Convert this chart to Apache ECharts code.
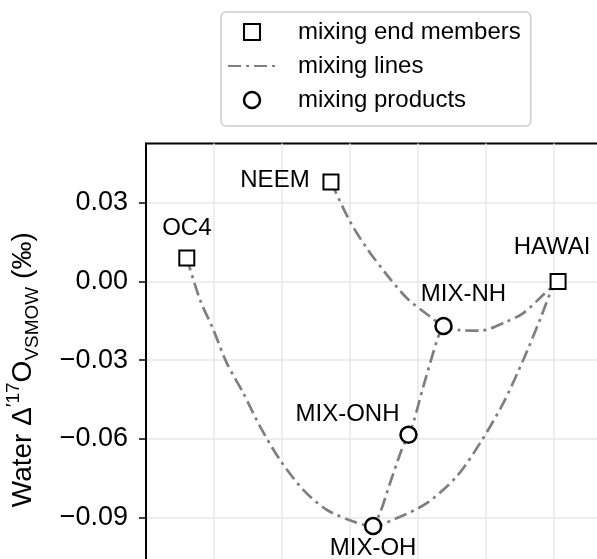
<!DOCTYPE html>
<html><head><meta charset="utf-8">
<script src="https://cdn.jsdelivr.net/npm/echarts@6/dist/echarts.min.js"></script>
<style>html,body{margin:0;padding:0;background:#fff}#c{width:597px;height:559px}</style>
</head><body><div id="c"></div>
<script>
// ---- data ----
const endMemberNames = ['OC4', 'NEEM', 'HAWAI'];
const endMemberX = [-54.0, -32.8, 0.6];
const endMemberY = [0.0089, 0.0379, 0.0];

const productNames = ['MIX-NH', 'MIX-ONH', 'MIX-OH'];
const productX = [-16.25, -21.4, -26.6];
const productY = [-0.0170, -0.0585, -0.0933];

// mixing line OC4 -> MIX-OH -> HAWAI
const lineOHx = [-54.0, -52.06, -50.10, -48.13, -45.69, -43.24, -40.29, -36.87, -33.43, -29.51, -26.6, -23.13, -18.72, -14.31, -10.88, -7.46, -4.51, -2.06, -0.34, 0.6];
const lineOHy = [0.0089, -0.0070, -0.0184, -0.0311, -0.0426, -0.0553, -0.0681, -0.0795, -0.0871, -0.0916, -0.0933, -0.0903, -0.0846, -0.0744, -0.0617, -0.0464, -0.0299, -0.0146, -0.0032, 0.0];
// mixing line NEEM -> MIX-NH -> HAWAI
const lineNHx = [-32.8, -30.0, -27.54, -24.60, -21.66, -18.24, -16.25, -13.82, -10.88, -6.96, -4.51, -1.57, 0.6];
const lineNHy = [0.0379, 0.0229, 0.0127, 0.0026, -0.0063, -0.0134, -0.0170, -0.0186, -0.0188, -0.0153, -0.0121, -0.0051, 0.0];
// mixing line MIX-NH -> MIX-ONH -> MIX-OH
const lineONHx = [-16.25, -17.01, -19.22, -20.69, -21.4, -22.40, -24.12, -25.59, -26.6];
const lineONHy = [-0.0170, -0.0210, -0.0401, -0.0540, -0.0585, -0.0642, -0.0770, -0.0884, -0.0933];

const yTicks = [-0.12, -0.09, -0.06, -0.03, 0.0, 0.03];
const legendNames = ['mixing end members', 'mixing lines', 'mixing products'];

// ---- layout (label offsets in px, not data) ----
const endLabelOffsets = [[0, -30], [-56, -2], [-6, -34]];
const productLabelOffsets = [[20, -32], [-61, -20], [0, 22]];

const FONT = '"Liberation Sans", Arial, Helvetica, sans-serif';
const zip = (xs, ys) => xs.map((x, i) => [x, ys[i]]);
const fmt = v => Math.abs(v) < 1e-9 ? '0.00' : v.toFixed(2).replace('-', '\u2212');

const lineStyle = { color: '#7f7f7f', width: 2.7, type: [13, 5, 3, 5] };
function mixLine(xs, ys) {
  return {
    name: legendNames[1], type: 'line', data: zip(xs, ys), smooth: 0.3,
    symbol: 'none', showSymbol: false, lineStyle: lineStyle, itemStyle: { color: '#7f7f7f' },
    z: 2, silent: true, animation: false
  };
}

const chart = echarts.init(document.getElementById('c'), null, { renderer: 'canvas' });
chart.setOption({
  animation: false,
  textStyle: { fontFamily: FONT },
  grid: { left: 146, top: 143.5, width: 544, height: 452.5, show: true, borderColor: '#000', borderWidth: 2, backgroundColor: 'transparent', containLabel: false, outerBoundsMode: 'none' },
  legend: {
    data: [
      { name: legendNames[0], icon: 'path://M0,0H10V10H0Z', itemStyle: { color: '#fff', borderColor: '#000', borderWidth: 2 } },
      { name: legendNames[1], itemStyle: { color: 'rgba(0,0,0,0)', borderColor: 'rgba(0,0,0,0)', borderWidth: 0 } },
      { name: legendNames[2], icon: 'circle', itemStyle: { color: '#fff', borderColor: '#000', borderWidth: 2.5 } }
    ],
    orient: 'vertical', left: 221, top: 12,
    itemWidth: 48, itemHeight: 16, itemGap: 10,
    padding: [8, 10, 14, 6],
    backgroundColor: '#fff', borderColor: '#cccccc', borderWidth: 1.5, borderRadius: 5,
    textStyle: { fontSize: 24, color: '#000', fontFamily: FONT, padding: [0, 0, 0, 17] },
    selectedMode: false
  },
  xAxis: {
    type: 'value', min: -60, max: 20, interval: 10,
    axisLine: { show: false, onZero: false }, axisTick: { show: false }, axisLabel: { show: false },
    splitLine: { show: true, lineStyle: { color: '#e8e8e8', width: 1.5 } }
  },
  yAxis: {
    type: 'value', min: -0.12, max: 0.0526, interval: 0.03,
    axisLine: { show: true, onZero: false, lineStyle: { color: '#000', width: 2 } },
    axisTick: { show: true, length: 7, lineStyle: { color: '#000', width: 1.5 }, customValues: yTicks },
    axisLabel: { show: true, margin: 18, fontSize: 27, color: '#000', fontFamily: FONT, formatter: fmt, customValues: yTicks },
    splitLine: { show: true, lineStyle: { color: '#e8e8e8', width: 1.5 } },
    name: 'Water \u0394{sup|\u203217}O{sub|VSMOW} (\u2030)',
    nameLocation: 'middle', nameGap: 104,
    nameTextStyle: {
      fontSize: 28, color: '#000', fontFamily: FONT, lineHeight: 38,
      rich: {
        sup: { fontSize: 19, lineHeight: 19, verticalAlign: 'top', color: '#000', fontFamily: FONT },
        sub: { fontSize: 19, lineHeight: 19, verticalAlign: 'bottom', color: '#000', fontFamily: FONT }
      }
    }
  },
  series: [
    mixLine(lineOHx, lineOHy),
    mixLine(lineNHx, lineNHy),
    mixLine(lineONHx, lineONHy),
    {
      name: legendNames[0], type: 'scatter', symbol: 'rect', symbolSize: 15, z: 5,
      itemStyle: { color: '#fff', borderColor: '#000', borderWidth: 2, opacity: 1 },
      data: endMemberNames.map((n, i) => ({
        name: n, value: [endMemberX[i], endMemberY[i]],
        label: { show: true, formatter: n, position: 'inside', offset: endLabelOffsets[i], fontSize: 24, color: '#000', fontFamily: FONT }
      }))
    },
    {
      name: legendNames[2], type: 'scatter', symbol: 'circle', symbolSize: 16, z: 5,
      itemStyle: { color: '#fff', borderColor: '#000', borderWidth: 2.5, opacity: 1 },
      data: productNames.map((n, i) => ({
        name: n, value: [productX[i], productY[i]],
        label: { show: true, formatter: n, position: 'inside', offset: productLabelOffsets[i], fontSize: 24, color: '#000', fontFamily: FONT }
      }))
    }
  ]
});
</script></body></html>
